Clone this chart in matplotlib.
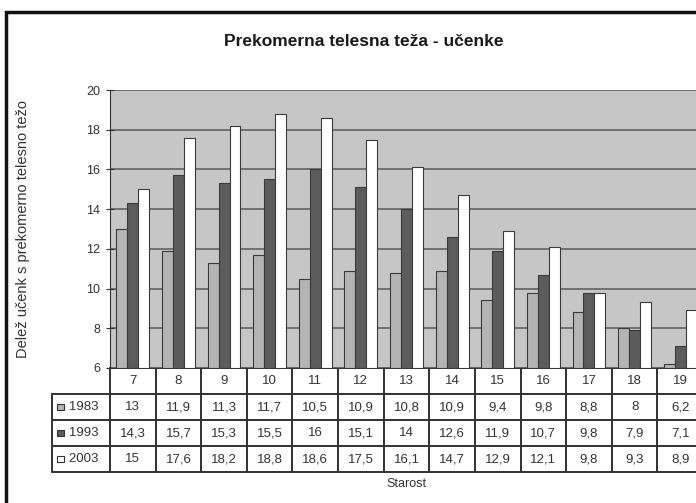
import matplotlib.pyplot as plt
from matplotlib.patches import Rectangle

plt.rcParams['font.family'] = ['Liberation Sans', 'DejaVu Sans']

ages = ['7', '8', '9', '10', '11', '12', '13', '14', '15', '16', '17', '18', '19']
years = ['1983', '1993', '2003']
v1983 = [13, 11.9, 11.3, 11.7, 10.5, 10.9, 10.8, 10.9, 9.4, 9.8, 8.8, 8, 6.2]
v1993 = [14.3, 15.7, 15.3, 15.5, 16, 15.1, 14, 12.6, 11.9, 10.7, 9.8, 7.9, 7.1]
v2003 = [15, 17.6, 18.2, 18.8, 18.6, 17.5, 16.1, 14.7, 12.9, 12.1, 9.8, 9.3, 8.9]
colors = ['#b4b4b4', '#5c5c5c', '#ffffff']

fig = plt.figure(figsize=(6.96, 5.03), dpi=100)
ax = fig.add_axes([110/696, 1 - 368/503, 593/696, 278/503])
ax.set_facecolor('#c6c6c6')

x = list(range(len(ages)))
w = 0.24
for k, vals in enumerate([v1983, v1993, v2003]):
    ax.bar([i + (k - 1) * w for i in x], [v - 6 for v in vals], w, bottom=6,
           color=colors[k], edgecolor='#3a3a3a', linewidth=0.8, zorder=3)

ax.set_ylim(6, 20)
ax.set_xlim(-0.5, len(ages) - 0.5)
ax.set_yticks(range(6, 21, 2))
ax.set_xticks([])
ax.yaxis.grid(True, color='#6a6a6a', linewidth=1.3, zorder=1)
ax.tick_params(axis='y', direction='inout', length=6, labelsize=9, colors='#333333', pad=4)
for s in ['top', 'right', 'bottom']:
    ax.spines[s].set_visible(False)
ax.spines['left'].set_color('#333333')

ax.set_ylabel('Delež učenk s prekomerno telesno težo', fontsize=10.5, color='#333333')
ax.yaxis.set_label_coords(-80 / 593, 0.5)
fig.text(364/696, 1 - 41/503, 'Prekomerna telesna teža - učenke', ha='center', va='center',
         fontsize=12.5, fontweight='bold', color='#1a1a1a')
fig.text(406/696, 1 - 484/503, 'Starost', ha='center', va='center', fontsize=9, color='#333333')

# data table under the axis
cells = [[''] + ages]
for yr, vals in zip(years, [v1983, v1993, v2003]):
    cells.append(['   ' + yr] + [f'{v:g}'.replace('.', ',') for v in vals])
lab_w = 58 / 593
tab_h = 104 / 278
tab = ax.table(cellText=cells, colWidths=[lab_w] + [1 / len(ages)] * len(ages),
               bbox=[-lab_w, -tab_h, 1 + lab_w, tab_h], cellLoc='center')
tab.auto_set_font_size(False)
tab.set_fontsize(9.5)
for (r, c), cell in tab.get_celld().items():
    cell.set_edgecolor('#333333')
    cell.set_linewidth(1.4)
    cell.get_text().set_color('#333333')
    if r == 0 and c == 0:
        cell.set_visible(False)
    if c == 0:
        cell.get_text().set_ha('left')
        cell._loc = 'left'

# legend keys in the label column
row_h = tab_h / 4
for k in range(3):
    yc = -row_h * (k + 1.5)
    ax.add_patch(Rectangle((-lab_w + 0.008, yc - 0.011), 0.012, 0.022, transform=ax.transAxes,
                           facecolor=colors[k], edgecolor='#333333', linewidth=0.8, clip_on=False))

# outer chart frame
fig.patches.append(Rectangle((6/696, -0.1), 1.1, 1 - 12/503 + 0.1, transform=fig.transFigure,
                             fill=False, edgecolor='#111111', linewidth=2.5))

fig.savefig('out.png', dpi=100)
